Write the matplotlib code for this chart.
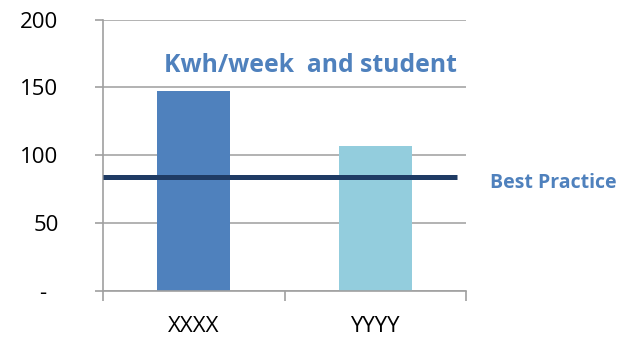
import matplotlib
matplotlib.use('Agg')
import matplotlib.pyplot as plt

categories = ['XXXX', 'YYYY']
kwh_per_student = [147.5, 107]
best_practice = 84
y_ticks = [0, 50, 100, 150, 200]
y_labels = ['-  ', '50', '100', '150', '200']

plt.rcParams['font.family'] = ['Open Sans', 'DejaVu Sans']

fig = plt.figure(figsize=(6.21, 3.37), dpi=100)
ax = fig.add_axes([103/621, 1-291/337, (466-103)/621, (291-19.5)/337])

x = range(len(categories))
ax.bar(x, kwh_per_student, width=0.4, color=['#4F81BD', '#93CDDD'], zorder=2)
ax.plot([-0.5, 1.45], [best_practice, best_practice], color='#1F3B64', linewidth=3.6,
        solid_capstyle='butt', zorder=3)

ax.set_xlim(-0.5, 1.5)
ax.set_ylim(0, 200)
ax.set_yticks(y_ticks, labels=y_labels)
ax.set_xticks([-0.5, 0.5, 1.5], minor=False)
ax.set_xticklabels([])
ax.set_xticks(list(x), labels=categories, minor=True)
ax.tick_params(axis='x', which='minor', length=0, pad=18, labelsize=16)
ax.tick_params(axis='x', which='major', length=7, width=1.2, color='#a0a0a0', direction='out')
ax.tick_params(axis='y', length=6, width=1.2, color='#a0a0a0', pad=26, labelsize=16)

ax.grid(axis='y', color='#a6a6a6', linewidth=1.2, zorder=0)
for s in ['top', 'right']:
    ax.spines[s].set_visible(False)
for s in ['left', 'bottom']:
    ax.spines[s].set_color('#a0a0a0')
    ax.spines[s].set_linewidth(1.2)

fig.text(310/621, 1-66/337, 'Kwh/week  and student', color='#4F81BD', fontsize=17.8,
         fontweight='bold', ha='center', va='center')
fig.text(553/621, 1-183/337, 'Best Practice', color='#4F81BD', fontsize=14,
         fontweight='bold', ha='center', va='center')

fig.savefig('out.png', dpi=100)
